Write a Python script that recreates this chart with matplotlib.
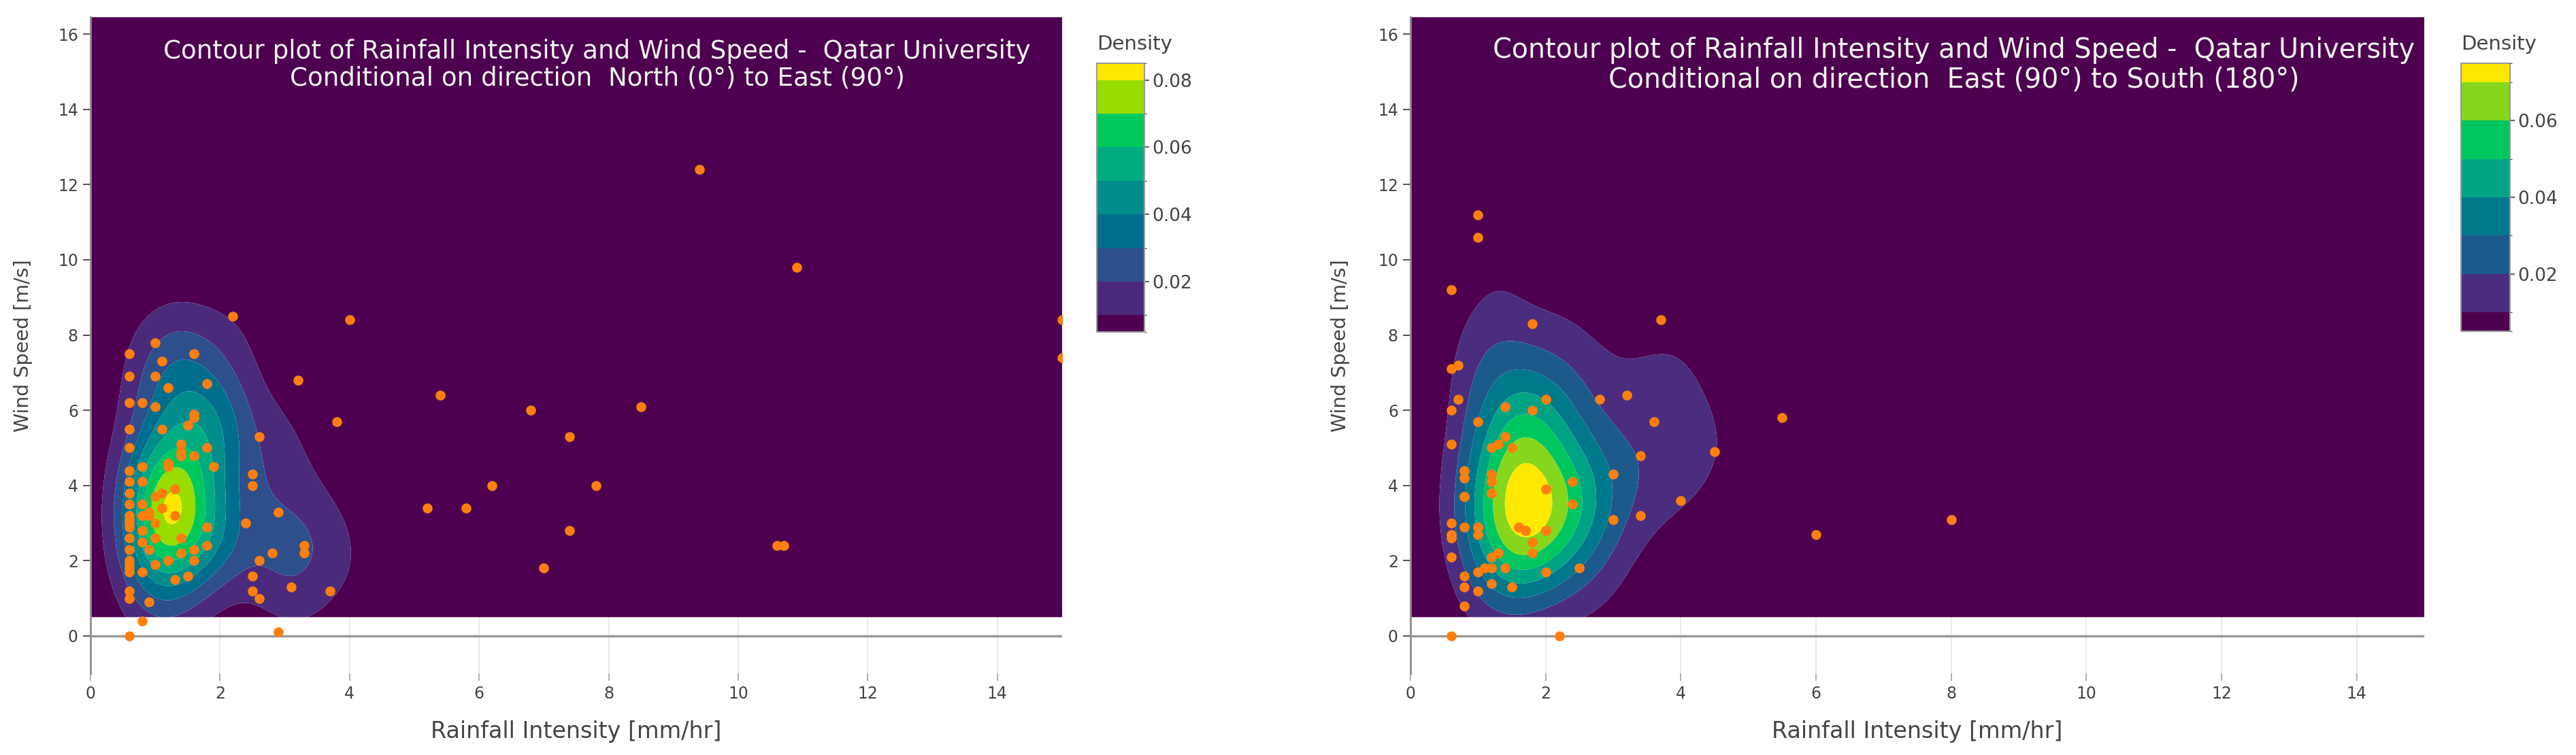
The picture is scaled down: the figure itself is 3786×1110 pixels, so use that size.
import numpy as np
import matplotlib.pyplot as plt
from matplotlib.colors import ListedColormap, BoundaryNorm
from matplotlib.cm import ScalarMappable

# --- data ------------------------------------------------------------------
# wind direction North (0°) to East (90°)
ne_rain = [0.6, 0.6, 0.6, 0.6, 0.6, 0.6, 0.6, 0.6, 0.6, 0.6, 0.6,
           0.6, 0.6, 0.6, 0.6, 0.6, 0.6, 0.6, 0.6, 0.6, 0.6, 0.6,
           0.8, 0.8, 0.8, 0.8, 0.8, 0.8, 0.8, 0.8, 0.8,
           0.9, 0.9, 0.9, 0.9,
           1.0, 1.0, 1.0, 1.0, 1.0, 1.0, 1.0,
           1.1, 1.1, 1.1, 1.1,
           1.2, 1.2, 1.2, 1.2,
           1.3, 1.3, 1.3,
           1.4, 1.4, 1.4, 1.4, 1.4,
           1.5, 1.5,
           1.6, 1.6, 1.6, 1.6, 1.6, 1.6,
           1.8, 1.8, 1.8, 1.8,
           1.9, 2.2, 2.4,
           2.5, 2.5, 2.5, 2.5,
           2.6, 2.6, 2.6,
           2.8, 2.9, 2.9, 3.1, 3.2, 3.3, 3.3, 3.7, 3.8, 4.0,
           5.2, 5.4, 5.8, 6.2, 6.8, 7.0, 7.4, 7.4, 7.8, 8.5,
           9.4, 10.6, 10.7, 10.9, 15.0, 15.0]
ne_wind = [7.5, 6.9, 6.2, 5.5, 5.0, 4.4, 4.1, 3.8, 3.5, 3.2, 3.1,
           3.0, 2.9, 2.6, 2.3, 2.0, 1.9, 1.8, 1.7, 1.2, 1.0, 0.0,
           6.2, 4.5, 4.1, 3.5, 3.2, 2.8, 2.5, 1.7, 0.4,
           3.3, 3.2, 2.3, 0.9,
           7.8, 6.9, 6.1, 3.7, 3.0, 2.6, 1.9,
           7.3, 5.5, 3.8, 3.4,
           6.6, 4.6, 4.5, 2.0,
           3.9, 3.2, 1.5,
           5.1, 4.9, 4.8, 2.6, 2.2,
           5.6, 1.6,
           7.5, 5.9, 5.8, 4.8, 2.3, 2.0,
           6.7, 5.0, 2.9, 2.4,
           4.5, 8.5, 3.0,
           4.3, 4.0, 1.6, 1.2,
           5.3, 2.0, 1.0,
           2.2, 3.3, 0.1, 1.3, 6.8, 2.4, 2.2, 1.2, 5.7, 8.4,
           3.4, 6.4, 3.4, 4.0, 6.0, 1.8, 5.3, 2.8, 4.0, 6.1,
           12.4, 2.4, 2.4, 9.8, 8.4, 7.4]

# wind direction East (90°) to South (180°)
es_rain = [0.6, 0.6, 0.6, 0.6, 0.6, 0.6, 0.6, 0.6, 0.6,
           0.7, 0.7,
           0.8, 0.8, 0.8, 0.8, 0.8, 0.8, 0.8,
           1.0, 1.0, 1.0, 1.0, 1.0, 1.0, 1.0,
           1.1,
           1.2, 1.2, 1.2, 1.2, 1.2, 1.2, 1.2,
           1.3, 1.3,
           1.4, 1.4, 1.4,
           1.5, 1.5,
           1.6, 1.7,
           1.8, 1.8, 1.8, 1.8,
           2.0, 2.0, 2.0, 2.0,
           2.2, 2.4, 2.4, 2.5, 2.8, 3.0, 3.0, 3.2, 3.4, 3.4,
           3.6, 3.7, 4.0, 4.5, 5.5, 6.0, 8.0]
es_wind = [9.2, 7.1, 6.0, 5.1, 3.0, 2.7, 2.6, 2.1, 0.0,
           7.2, 6.3,
           4.4, 4.2, 3.7, 2.9, 1.6, 1.3, 0.8,
           11.2, 10.6, 5.7, 2.9, 2.7, 1.7, 1.2,
           1.8,
           5.0, 4.3, 4.1, 3.8, 2.1, 1.8, 1.4,
           5.1, 2.2,
           6.1, 5.3, 1.8,
           5.0, 1.3,
           2.9, 2.8,
           8.3, 6.0, 2.5, 2.2,
           6.3, 3.9, 2.8, 1.7,
           0.0, 4.1, 3.5, 1.8, 6.3, 4.3, 3.1, 6.4, 4.8, 3.2,
           5.7, 8.4, 3.6, 4.9, 5.8, 2.7, 3.1]
# repeated readings hidden under markers that are already drawn
es_rain_rep = [1.6, 1.7, 1.2, 2.0, 1.0, 2.0, 1.2, 0.8]
es_wind_rep = [2.9, 2.8, 3.8, 3.9, 2.9, 2.8, 4.1, 3.7]

ne_title = ("Contour plot of Rainfall Intensity and Wind Speed -  Qatar University\n"
            "Conditional on direction  North (0°) to East (90°)")
es_title = ("Contour plot of Rainfall Intensity and Wind Speed -  Qatar University\n"
            "Conditional on direction  East (90°) to South (180°)")

ne_levels = [0.01, 0.02, 0.03, 0.04, 0.05, 0.06, 0.07, 0.08]
es_levels = [0.01, 0.02, 0.03, 0.04, 0.05, 0.06, 0.07]
cbar_ticks = [0.02, 0.04, 0.06, 0.08]

ne_colors = ['#4d004f', '#4b2a7b', '#2d4f8b', '#006f8e', '#008d8b',
             '#00ad80', '#00c95c', '#99dc00', '#ffe800']
es_colors = ['#4d004f', '#4a2d7f', '#1d5a8c', '#00788b', '#00a485',
             '#00c65f', '#85d61d', '#ffe800']

GREY = '#444444'


def kde(rain, wind, gx, gy, bw_x, bw_y):
    # plain gaussian kernel density on a regular grid
    px = np.asarray(rain, dtype=float)[:, None, None]
    py = np.asarray(wind, dtype=float)[:, None, None]
    X, Y = np.meshgrid(gx, gy)
    k = np.exp(-0.5 * ((X - px) / bw_x) ** 2 - 0.5 * ((Y - py) / bw_y) ** 2)
    return k.sum(axis=0) / (len(rain) * 2 * np.pi * bw_x * bw_y)


def panel(fig, ax_rect, cb_rect, rain, wind, levels, colors,
          title, title_x, title_fs, bw, offset):
    ax = fig.add_axes(ax_rect)
    gx = np.linspace(0, 15, 241)
    gy = np.linspace(0.5, 16.45, 256)
    # the density grid of the source figure is registered up/right of the points
    dens = kde(rain, wind, gx - offset[0], gy - offset[1], *bw)

    bounds = [0.0] + levels + [1.0]
    ax.contourf(gx, gy, dens, levels=bounds, colors=colors, zorder=1, antialiased=True)

    ax.scatter(rain, wind, s=110, color='#ff7f0e', linewidths=0, zorder=4)

    ax.set_xlim(0, 15)
    ax.set_ylim(-1, 16.45)
    ax.set_xticks(range(0, 15, 2))
    ax.set_yticks(range(0, 17, 2))
    ax.grid(axis='x', color='#ebebeb', lw=1.5, zorder=0)
    ax.set_axisbelow(True)
    ax.axhline(0, color='#9a9a9a', lw=2.5, zorder=2)
    for s in ['top', 'right', 'bottom']:
        ax.spines[s].set_visible(False)
    ax.spines['left'].set_color('#8c8c8c')
    ax.spines['left'].set_linewidth(2)
    ax.tick_params(colors=GREY, labelsize=17, length=8, width=1.3, pad=5)
    ax.tick_params(axis='x', color='#aaaaaa')

    ax.set_xlabel('Rainfall Intensity [mm/hr]', fontsize=24, color=GREY)
    ax.xaxis.set_label_coords(0.5, -0.088)
    ax.xaxis.label.set_va('center')
    ax.set_ylabel('Wind Speed [m/s]', fontsize=20.5, color=GREY)
    ax.yaxis.set_label_coords(-0.069, 0.5)
    ax.yaxis.label.set_va('center')

    fig.text(title_x, 0.914, title, ha='center', va='center', multialignment='center',
             fontsize=title_fs, color='#f2f2f2', linespacing=1.1)

    # colorbar in plotly style: half a level below the first and above the last contour
    cb_bounds = [levels[0] - 0.005] + levels + [levels[-1] + 0.005]
    sm = ScalarMappable(norm=BoundaryNorm(cb_bounds, len(colors)), cmap=ListedColormap(colors))
    cax = fig.add_axes(cb_rect)
    cb = fig.colorbar(sm, cax=cax, boundaries=cb_bounds, spacing='proportional',
                      ticks=[t for t in cbar_ticks if t <= cb_bounds[-1]])
    cb.ax.yaxis.set_major_formatter(plt.FormatStrFormatter('%.2f'))
    cb.outline.set_edgecolor('#999999')
    cb.outline.set_linewidth(1.5)
    cb.ax.tick_params(colors=GREY, labelsize=19, length=5, width=1.2, pad=3)
    fig.text(cb_rect[0], 0.9414, 'Density', ha='left', va='center', fontsize=21, color=GREY)
    return ax


fig = plt.figure(figsize=(37.86, 11.10), dpi=100)

panel(fig, [0.03513, 0.10784, 0.37718, 0.86937], [0.42578, 0.56036, 0.01849, 0.35586],
      ne_rain, ne_wind, ne_levels, ne_colors,
      ne_title, 0.2318, 26.8, (0.46, 1.06), (0.38, 0.4))
panel(fig, [0.54755, 0.10784, 0.39356, 0.86937], [0.95536, 0.56126, 0.01902, 0.35495],
      es_rain + es_rain_rep, es_wind + es_wind_rep, es_levels, es_colors,
      es_title, 0.7586, 28.5, (0.5, 1.25), (0.55, 0.7))

fig.savefig('out.png', dpi=100)
